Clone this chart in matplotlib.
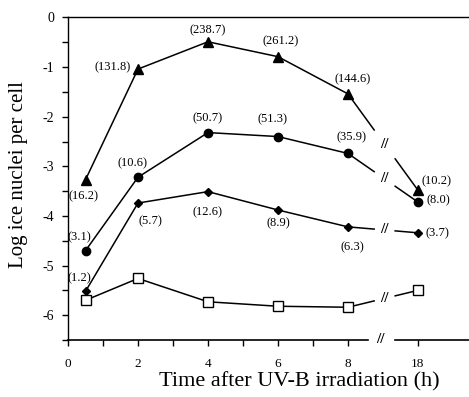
import numpy as np
import matplotlib
matplotlib.use("Agg")
import matplotlib.pyplot as plt

plt.rcParams["font.family"] = ["Liberation Serif", "DejaVu Serif"]
plt.rcParams["axes.unicode_minus"] = False

# data (log ice nuclei per cell), hours after UV-B
hours = [0.5, 2, 4, 6, 8, 18]
tri = [-3.27, -1.04, -0.49, -0.79, -1.54, -3.48]
circ = [-4.70, -3.22, -2.32, -2.40, -2.74, -3.72]
diam = [-5.52, -3.74, -3.51, -3.88, -4.22, -4.34]
sq = [-5.70, -5.26, -5.73, -5.82, -5.84, -5.50]
tri_lab = ["(16.2)", "(131.8)", "(238.7)", "(261.2)", "(144.6)", "(10.2)"]
circ_lab = ["(3.1)", "(10.6)", "(50.7)", "(51.3)", "(35.9)", "(8.0)"]
diam_lab = ["(1.2)", "(5.7)", "(12.6)", "(8.9)", "(6.3)", "(3.7)"]


def xpos(h):
    # broken axis: 18 h drawn two units after 8 h
    return h if h <= 8 else 10


xs = [xpos(h) for h in hours]

fig = plt.figure(figsize=(4.69, 3.97), dpi=100)
ax = fig.add_axes([0.145, 0.1436, 0.855, 0.8124])

cut_a, cut_mid, cut_b = 8.75, 9.05, 9.35


def series(y, marker, ms, face):
    ax.plot(xs[:5], y[:5], "-", color="black", lw=1.1, zorder=2)
    y_a = np.interp(cut_a, [xs[4], xs[5]], [y[4], y[5]])
    y_m = np.interp(cut_mid, [xs[4], xs[5]], [y[4], y[5]])
    y_b = np.interp(cut_b, [xs[4], xs[5]], [y[4], y[5]])
    ax.plot([xs[4], cut_a], [y[4], y_a], color="black", lw=1.1, zorder=2)
    ax.plot([cut_b, xs[5]], [y_b, y[5]], color="black", lw=1.1, zorder=2)
    ax.text(cut_mid, y_m, "//", ha="center", va="center", fontsize=11,
            fontweight="bold")
    ax.plot(xs, y, linestyle="none", marker=marker, ms=ms, mfc=face,
            mec="black", mew=1.0, zorder=3)


series(tri, "^", 7, "black")
series(circ, "o", 6, "black")
series(diam, "D", 4.5, "black")
series(sq, "s", 6.5, "white")

# label offsets in pixels
tri_off = [(-2, -17), (-25, 2), (0, 12), (3, 15), (5, 15), (19, 9)]
circ_off = [(-6, 13), (-5, 14), (0, 14), (-5, 17), (4, 16), (20, 2)]
diam_off = [(-6, 13), (12, -18), (0, -21), (0, -13), (4, -20), (20, 0)]
for y, labs, offs in [(tri, tri_lab, tri_off), (circ, circ_lab, circ_off),
                      (diam, diam_lab, diam_off)]:
    for xv, yv, s, o in zip(xs, y, labs, offs):
        ax.annotate(s, (xv, yv), xytext=o, textcoords="offset pixels",
                    ha="center", va="center", fontsize=9)

ax.set_xlim(0, 11.46)
ax.set_ylim(-6.5, 0)

ax.set_xticks(list(range(0, 9)) + [10])
ax.set_xticklabels(["0", "", "2", "", "4", "", "6", "", "8", "18"])
ax.set_yticks(np.arange(0, -7, -1))
ax.set_yticklabels([str(v) for v in range(0, -7, -1)])
ax.set_yticks(np.arange(-0.5, -6.6, -1), minor=True)
ax.tick_params(axis="x", direction="out", length=4, width=1, pad=9,
               labelsize=9.5)
ax.tick_params(axis="y", which="both", direction="out", length=4, width=1,
               pad=6, labelsize=10)

ax.spines["right"].set_visible(False)
ax.spines["bottom"].set_visible(False)
ax.spines["top"].set_linewidth(1.0)
ax.spines["left"].set_linewidth(1.0)

# broken bottom axis
ax.plot([0, 8.57], [-6.5, -6.5], color="black", lw=1.2, clip_on=False)
ax.plot([9.34, 11.46], [-6.5, -6.5], color="black", lw=1.2, clip_on=False)
ax.text(8.93, -6.5, "//", ha="center", va="center", fontsize=11,
        fontweight="bold", clip_on=False)

fig.text(19 / 469, 1 - 175 / 397, "Log ice nuclei per cell", rotation=90,
         ha="center", va="center", fontsize=15)
fig.text(299 / 469, 1 - 382 / 397, "Time after UV-B irradiation (h)",
         ha="center", va="center", fontsize=16)

fig.savefig("out.png", dpi=100)
